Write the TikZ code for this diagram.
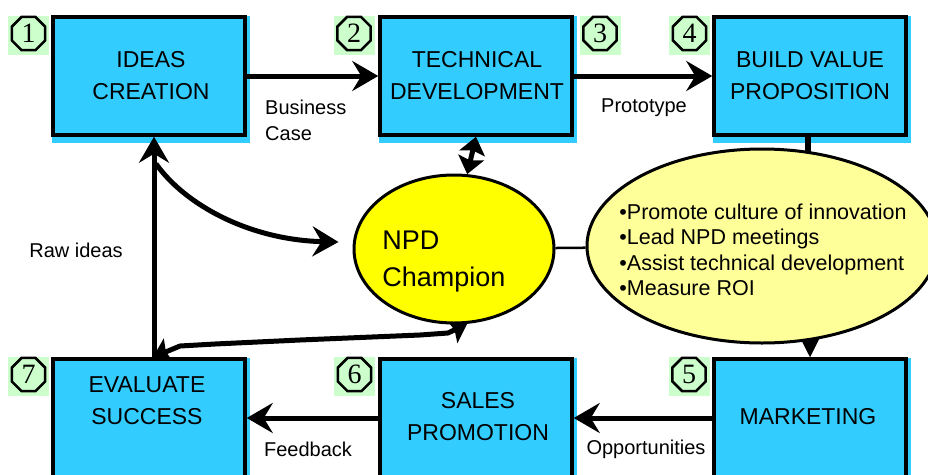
\documentclass[tikz,border=0pt]{standalone}
\usepackage{fontspec}
\setmainfont{Liberation Sans}
\newfontfamily\numfont{Liberation Serif}
\usetikzlibrary{shapes.misc,shapes.geometric,arrows.meta,calc,backgrounds}

\definecolor{stageblue}{HTML}{33CCFF}
\definecolor{badgegreen}{HTML}{CCFFCC}
\definecolor{champyellow}{HTML}{FFFF00}
\definecolor{noteyellow}{HTML}{FFFF99}

\tikzset{
	stage/.style={chamfered rectangle, chamfered rectangle xsep=6pt, chamfered rectangle ysep=6pt,
			draw, line width=3.5pt, fill=stageblue, minimum width=192pt, minimum height=118pt, inner sep=0pt},
	stagetext/.style={align=center, inner sep=0pt, font=\fontsize{23}{32}\selectfont},
	badge/.style={regular polygon, regular polygon sides=8, draw, line width=2.5pt, fill=badgegreen,
			minimum size=36pt, inner sep=0pt, font=\numfont\fontsize{28}{28}\selectfont},
	tag/.style={inner sep=0pt, align=left, font=\fontsize{20}{26}\selectfont},
	flow/.style={line width=5pt, -{Stealth[length=26pt,width=30pt,inset=9pt]}},
	flowboth/.style={line width=5pt, {Stealth[length=17pt,width=26pt,inset=3pt]}-{Stealth[length=17pt,width=26pt,inset=3pt]}},
	pointer/.style={line width=1pt, -{Triangle[length=22pt,width=22pt]}},
}

\begin{document}
\begin{tikzpicture}[x=1pt, y=-1pt]
	\useasboundingbox (0,0) rectangle (928,474);

	% the seven stages
	\foreach \name/\x/\y/\tx/\ty/\txt in {
			ideas/149/76/151/76/{IDEAS\\CREATION},
			tech/476/76/477/76/{TECHNICAL\\DEVELOPMENT},
			build/810/76/810/76/{BUILD VALUE\\PROPOSITION},
			marketing/810/418/808/417/{MARKETING},
			sales/476/418/478/417/{SALES\\PROMOTION},
			evaluate/149/418/147/401/{EVALUATE\\SUCCESS}} {
			\begin{scope}[on background layer]
				\fill[stageblue] (\x-97,\y-60) rectangle (\x+101,\y+67);
			\end{scope}
			\node[stage] (\name) at (\x,\y) {};
			\node[stagetext] (\name-text) at (\tx,\ty) {\txt};
		}

	% step numbers
	\foreach \num/\x/\y in {1/28.5/35.5, 2/354/35.5, 3/600/35.5, 4/689.5/35.5,
			5/689/376.5, 6/354.5/376.5, 7/28.5/376.5} {
			\begin{scope}[on background layer]
				\fill[badgegreen] (\x-20.5,\y-19.5) rectangle (\x+20.5,\y+19.5);
			\end{scope}
			\node[badge] (badge\num) at (\x,\y-2) {\num};
		}

	% champion and its duties
	\node[ellipse, draw, line width=3pt, fill=champyellow, minimum width=200pt, minimum height=148pt, inner sep=0pt] (champion) at (454,249) {};
	\node[align=left, inner sep=0pt, font=\fontsize{27}{37}\selectfont] (champion-text) at (444,262) {NPD\\Champion};
	\node[ellipse, draw, line width=3pt, fill=noteyellow, minimum width=350pt, minimum height=194pt, inner sep=0pt] (notes) at (762,246) {};
	\node[align=left, inner sep=0pt, font=\fontsize{21.5}{25.5}\selectfont] (notes-text) at (763,250)
	{•Promote culture of innovation\\•Lead NPD meetings\\•Assist technical development\\•Measure ROI};

	% flow labels
	\node[tag, anchor=west] (business) at (265,120) {Business\\Case};
	\node[tag] (prototype) at (644,108) {Prototype};
	\node[tag] (rawideas) at (76,250) {Raw ideas};
	\node[tag] (feedback) at (308,449) {Feedback};
	\node[tag] (opportunities) at (646,449) {Opportunities};

	\begin{scope}[on background layer]
		\draw[flow] (ideas) -- (tech);
		\draw[flow] (tech) -- (build);
		\draw[flow] (marketing) -- (sales);
		\draw[flow] (sales) -- (evaluate);
		\draw[flow] ([xshift=5pt]evaluate.north) -- ([xshift=5pt]ideas.south);
		\coordinate (fork) at ($(ideas.south)+(7,27)$);
		\draw[flow] (fork) .. controls (185,205) and (250,240) .. ($(champion.west)+(-14,-7)$);
		\draw[flowboth] (tech.south) -- (champion.80);
		\draw[flowboth] (champion.-80) -- (448,333) -- (420,335) -- (300,340) -- (215,344) -- (180,346) -- ([xshift=4pt]evaluate.north);
		\draw[line width=2.5pt] (champion) -- (notes);
		\draw[line width=6pt] ([xshift=-2pt]build.south) -- ([xshift=-2pt]build.south |- notes.center);
		\draw[pointer] (marketing.north |- notes.center) -- (marketing.north);
	\end{scope}
\end{tikzpicture}
\end{document}
